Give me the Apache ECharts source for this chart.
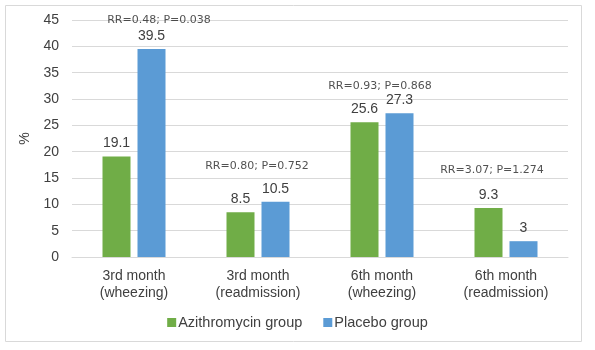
<!DOCTYPE html>
<html><head><meta charset="utf-8">
<script src="https://cdn.jsdelivr.net/npm/echarts@6/dist/echarts.min.js"></script>
<style>html,body{margin:0;padding:0;background:#fff}#c{width:595px;height:350px}</style>
</head><body><div id="c"></div>
<script>
var categories = ['3rd month\n(wheezing)', '3rd month\n(readmission)', '6th month\n(wheezing)', '6th month\n(readmission)'];
var azithromycin = [19.1, 8.5, 25.6, 9.3];
var placebo = [39.5, 10.5, 27.3, 3];
var rrValues = ['0.48', '0.80', '0.93', '3.07'];
var pValues = ['0.038', '0.752', '0.868', '1.274'];
var yTicks = [0, 5, 10, 15, 20, 25, 30, 35, 40, 45];

var chart = echarts.init(document.getElementById('c'));
var txt = '#404040';
var font = 'Liberation Sans';
var rrLabelOffsets = [[25, 0], [-1, -7], [-2, 1], [-14, -9]];
chart.setOption({
  animation: false,
  graphic: [{type: 'rect', shape: {x: 5.5, y: 5.5, width: 576, height: 336}, style: {fill: 'none', stroke: '#d9d9d9', lineWidth: 1}}],
  grid: {left: 72, right: 27, top: 20, bottom: 93},
  legend: {
    bottom: 15, left: 'center', itemWidth: 9, itemHeight: 9, itemGap: 21,
    icon: 'rect',
    textStyle: {fontFamily: font, fontSize: 14.5, color: txt, padding: [0, 0, 0, -3]},
    data: ['Azithromycin group', 'Placebo group']
  },
  xAxis: {
    type: 'category', data: categories,
    axisLine: {lineStyle: {color: '#d9d9d9'}}, axisTick: {show: false},
    axisLabel: {fontFamily: font, fontSize: 14, color: txt, lineHeight: 17, margin: 11}
  },
  yAxis: {
    type: 'value', min: yTicks[0], max: yTicks[yTicks.length - 1], interval: 5,
    name: '%', nameLocation: 'middle', nameGap: 38, nameRotate: 90,
    nameTextStyle: {fontFamily: font, fontSize: 14, color: txt},
    axisLine: {show: false}, axisTick: {show: false},
    axisLabel: {fontFamily: font, fontSize: 14, color: txt, margin: 13},
    splitLine: {lineStyle: {color: '#d9d9d9'}}
  },
  series: [
    {name: 'Azithromycin group', type: 'bar', data: azithromycin, barWidth: 28, barGap: '25%',
      itemStyle: {color: '#70ad47'},
      label: {show: true, position: 'top', fontFamily: font, fontSize: 14, color: txt, distance: 6}},
    {name: 'Placebo group', type: 'bar', data: placebo, barWidth: 28,
      itemStyle: {color: '#5b9bd5'},
      label: {show: true, position: 'top', fontFamily: font, fontSize: 14, color: txt, distance: 6}},
    {name: 'rr', type: 'scatter', symbolSize: 0, silent: true,
      data: azithromycin.map(function (v, i) {
        return {value: Math.max(v, placebo[i]), label: {offset: rrLabelOffsets[i]}};
      }),
      label: {show: true, position: 'top', distance: 23,
        fontFamily: 'DejaVu Sans', fontSize: 11, color: '#262626',
        formatter: function (p) { return 'RR=' + rrValues[p.dataIndex] + '; P=' + pValues[p.dataIndex]; }}}
  ]
});
</script></body></html>
